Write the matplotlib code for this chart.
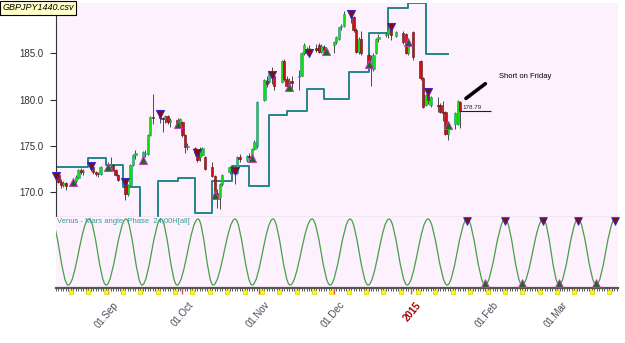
import numpy as np
import pandas as pd
import matplotlib
matplotlib.use("Agg")
import matplotlib.pyplot as plt
import matplotlib.dates as mdates
import matplotlib.transforms as mtrans
from matplotlib.path import Path
from matplotlib.patches import PathPatch

# daily GBPJPY bars
bar_dates = [
    "2014-08-11", "2014-08-12", "2014-08-13", "2014-08-14", "2014-08-15",
    "2014-08-18", "2014-08-19", "2014-08-20", "2014-08-21", "2014-08-22",
    "2014-08-25", "2014-08-26", "2014-08-27", "2014-08-28", "2014-08-29",
    "2014-09-01", "2014-09-02", "2014-09-03", "2014-09-04", "2014-09-05",
    "2014-09-08", "2014-09-09", "2014-09-10", "2014-09-11", "2014-09-12",
    "2014-09-15", "2014-09-16", "2014-09-17", "2014-09-18", "2014-09-19",
    "2014-09-22", "2014-09-23", "2014-09-24", "2014-09-25", "2014-09-26",
    "2014-09-29", "2014-09-30", "2014-10-01", "2014-10-02", "2014-10-03",
    "2014-10-06", "2014-10-07", "2014-10-08", "2014-10-09", "2014-10-10",
    "2014-10-13", "2014-10-14", "2014-10-15", "2014-10-16", "2014-10-17",
    "2014-10-20", "2014-10-21", "2014-10-22", "2014-10-23", "2014-10-24",
    "2014-10-27", "2014-10-28", "2014-10-29", "2014-10-30", "2014-10-31",
    "2014-11-03", "2014-11-04", "2014-11-05", "2014-11-06", "2014-11-07",
    "2014-11-10", "2014-11-11", "2014-11-12", "2014-11-13", "2014-11-14",
    "2014-11-17", "2014-11-18", "2014-11-19", "2014-11-20", "2014-11-21",
    "2014-11-24", "2014-11-25", "2014-11-26", "2014-11-27", "2014-11-28",
    "2014-12-01", "2014-12-02", "2014-12-03", "2014-12-04", "2014-12-05",
    "2014-12-08", "2014-12-09", "2014-12-10", "2014-12-11", "2014-12-12",
    "2014-12-15", "2014-12-16", "2014-12-17", "2014-12-18", "2014-12-19",
    "2014-12-22", "2014-12-23", "2014-12-24", "2014-12-26",
    "2014-12-29", "2014-12-30", "2014-12-31", "2015-01-02",
    "2015-01-05", "2015-01-06", "2015-01-07", "2015-01-08", "2015-01-09",
    "2015-01-12", "2015-01-13", "2015-01-14", "2015-01-15", "2015-01-16",
    "2015-01-19", "2015-01-20", "2015-01-21",
]
opens = [
    171.9, 171.8, 171.1, 170.8, 171.0,
    170.8, 171.2, 171.5, 172.4, 172.2,
    172.5, 172.7, 172.2, 172.0, 171.9,
    172.7, 172.9, 172.9, 172.4, 171.8,
    171.2, 169.8, 170.8, 172.9, 174.0,
    173.5, 174.1, 174.1, 176.2, 178.1,
    178.5, 178.0, 177.9, 178.2, 177.6,
    177.8, 177.3, 177.6, 176.2, 174.9,
    174.8, 174.5, 173.8, 174.0, 173.8,
    172.7, 171.7, 169.9, 169.5, 170.9,
    172.2, 172.7, 172.4, 172.1, 173.8,
    173.5, 173.9, 173.9, 174.7, 175.0,
    180.0, 182.0, 181.9, 182.9, 182.5,
    181.9, 184.2, 182.2, 181.5, 182.0,
    182.4, 182.6, 185.0, 185.5, 185.1,
    185.6, 185.9, 185.2, 185.7, 185.4,
    185.9, 186.2, 186.6, 187.8, 188.0,
    189.0, 188.9, 187.5, 185.1, 186.6,
    184.8, 183.5, 183.3, 185.0, 186.6,
    187.0, 187.1, 187.6, 186.9,
    187.2, 187.1, 185.0, 187.3,
    184.2, 182.3, 179.4, 180.5, 179.4,
    179.4, 179.4, 178.7, 178.7, 176.3,
    177.4, 177.4, 179.7,
]
highs = [
    172.1, 171.9, 171.4, 171.2, 171.1,
    171.4, 171.8, 172.5, 172.6, 172.5,
    173.0, 172.8, 172.3, 172.2, 172.8,
    173.2, 173.8, 173.0, 172.5, 171.9,
    171.4, 170.9, 173.0, 174.1, 174.6,
    174.4, 174.6, 176.3, 178.2, 180.6,
    178.6, 178.1, 178.3, 178.3, 178.0,
    178.0, 178.0, 177.7, 176.3, 175.3,
    174.9, 174.6, 174.9, 174.9, 173.9,
    173.2, 171.8, 170.3, 171.0, 171.9,
    172.8, 172.9, 172.7, 173.9, 174.1,
    174.0, 174.2, 174.8, 175.6, 179.8,
    182.2, 182.5, 183.1, 183.5, 182.7,
    184.3, 184.4, 182.6, 182.3, 182.5,
    183.2, 185.1, 186.1, 185.7, 185.9,
    186.0, 186.1, 186.0, 185.9, 185.7,
    186.3, 186.9, 187.9, 188.2, 189.6,
    189.5, 189.0, 187.7, 186.8, 187.4,
    185.0, 184.8, 185.0, 186.7, 187.1,
    187.3, 187.9, 188.0, 187.4,
    187.4, 187.2, 186.5, 187.4,
    184.3, 182.4, 180.6, 180.9, 180.4,
    180.3, 179.6, 179.9, 178.8, 177.6,
    178.7, 180.0, 179.9,
]
lows = [
    171.5, 171.0, 170.4, 170.5, 170.2,
    170.7, 171.0, 171.4, 171.9, 171.8,
    172.3, 172.0, 171.7, 171.6, 171.8,
    172.5, 172.6, 172.3, 171.7, 171.2,
    169.1, 169.6, 170.7, 172.8, 173.6,
    173.3, 173.8, 174.0, 176.1, 177.4,
    177.5, 176.5, 177.5, 177.4, 177.0,
    177.0, 177.0, 176.0, 174.2, 174.6,
    173.9, 173.3, 173.4, 173.9, 172.4,
    171.6, 169.6, 168.3, 168.2, 170.7,
    172.0, 171.9, 170.9, 172.0, 173.3,
    173.3, 173.6, 173.8, 174.5, 174.8,
    179.8, 181.4, 181.8, 181.7, 181.0,
    181.8, 182.0, 181.2, 181.1, 180.9,
    181.0, 182.5, 184.8, 184.8, 184.7,
    185.2, 185.0, 185.0, 185.2, 185.0,
    185.0, 186.0, 186.4, 187.5, 187.9,
    188.3, 187.3, 185.0, 184.9, 184.8,
    183.3, 181.5, 183.1, 184.9, 186.2,
    186.8, 186.7, 186.5, 186.8,
    186.0, 184.9, 184.8, 184.3,
    182.1, 179.1, 179.3, 179.5, 179.2,
    178.7, 178.6, 177.7, 176.2, 175.6,
    176.8, 177.2, 176.9,
]
closes = [
    171.7, 171.1, 170.8, 171.0, 170.6,
    171.2, 171.6, 172.4, 172.2, 172.3,
    172.8, 172.2, 172.0, 171.9, 172.7,
    172.9, 173.0, 172.4, 171.8, 171.3,
    169.8, 170.8, 172.9, 174.0, 174.2,
    174.3, 174.2, 176.2, 178.1, 178.0,
    178.0, 177.9, 178.2, 177.6, 177.8,
    177.4, 177.9, 176.2, 174.9, 175.0,
    174.2, 173.5, 174.6, 174.8, 172.5,
    171.7, 169.9, 169.6, 170.9, 171.8,
    172.7, 172.3, 172.1, 173.8, 173.6,
    173.9, 173.8, 174.7, 175.4, 179.7,
    182.1, 181.7, 183.0, 182.4, 181.5,
    184.2, 182.2, 181.5, 182.0, 181.8,
    182.6, 185.0, 185.9, 185.0, 185.6,
    185.4, 185.1, 185.8, 185.4, 185.3,
    186.2, 186.8, 187.8, 188.0, 189.3,
    188.9, 187.5, 185.1, 186.6, 185.0,
    183.5, 184.5, 184.8, 186.6, 186.8,
    187.1, 187.6, 187.0, 187.3,
    186.2, 185.0, 186.2, 184.6,
    182.3, 179.2, 180.5, 180.0, 180.3,
    179.3, 178.7, 178.5, 176.3, 177.0,
    178.6, 179.9, 178.79,
]

# turn signals drawn on the price bars
sell_dates = ["2014-08-11", "2014-08-25", "2014-09-08", "2014-09-22", "2014-10-07",
              "2014-10-22", "2014-11-06", "2014-11-21", "2014-12-08", "2014-12-24",
              "2015-01-08"]
sell_prices = [171.7, 172.8, 171.1, 178.4, 174.2, 172.3, 182.7, 185.0, 189.3, 187.8, 180.8]
buy_dates = ["2014-08-18", "2014-09-01", "2014-09-15", "2014-09-29", "2014-10-14",
             "2014-10-29", "2014-11-13", "2014-11-28", "2014-12-15", "2014-12-31",
             "2015-01-16"]
buy_prices = [171.1, 172.7, 173.5, 177.4, 169.7, 173.7, 181.4, 185.3, 183.9, 186.2, 177.2]

# weekly step line
step_dates = ["2014-08-11", "2014-08-24", "2014-08-31", "2014-09-07", "2014-09-14",
              "2014-09-21", "2014-09-29", "2014-10-06", "2014-10-13", "2014-10-21",
              "2014-10-28", "2014-11-05", "2014-11-12", "2014-11-20", "2014-11-27",
              "2014-12-07", "2014-12-15", "2014-12-23", "2014-12-31", "2015-01-07",
              "2015-01-16"]
step_levels = [172.7, 173.65, 172.9, 170.5, 167.0, 171.2, 171.5, 167.7, 171.2, 172.8,
               170.7, 178.3, 178.8, 181.2, 180.1, 183.0, 187.2, 189.9, 190.4, 184.9,
               184.9]

# Venus - Mars angle phase: tops and bottoms of the oscillator
peak_times = ["2014-08-09 00:00", "2014-08-24 08:00", "2014-09-08 06:00", "2014-09-22 09:00",
              "2014-10-07 07:00", "2014-10-22 05:00", "2014-11-06 12:00", "2014-11-22 06:00",
              "2014-12-07 14:00", "2014-12-23 07:00", "2015-01-08 00:00", "2015-01-23 19:00",
              "2015-02-08 02:00", "2015-02-23 10:00", "2015-03-09 12:00", "2015-03-24 10:00"]
trough_times = ["2014-08-15 22:00", "2014-08-31 05:00", "2014-09-14 17:00", "2014-09-28 19:00",
                "2014-10-13 08:00", "2014-10-29 02:00", "2014-11-13 09:00", "2014-11-29 12:00",
                "2014-12-14 20:00", "2014-12-30 14:00", "2015-01-15 17:00", "2015-01-31 00:00",
                "2015-02-14 22:00", "2015-03-01 20:00", "2015-03-16 19:00"]
peak_level = 1.0
trough_level = 0.0

month_ticks = ["2014-09-01", "2014-10-01", "2014-11-01", "2014-12-01",
               "2015-01-01", "2015-02-01", "2015-03-01"]
month_labels = ["01.Sep", "01.Oct", "01.Nov", "01.Dec", "2015", "01.Feb", "01.Mar"]


def dnum(lst):
    return mdates.date2num(pd.to_datetime(lst))


plt.rcParams['font.family'] = ['Liberation Sans', 'DejaVu Sans']

fig = plt.figure(figsize=(6.25, 3.43), dpi=100)
ax = fig.add_axes([56 / 625, 126 / 343, 562 / 625, 214 / 343])
ax2 = fig.add_axes([56 / 625, 55 / 343, 562 / 625, 71 / 343], sharex=ax)
bg = '#fdf1fd'
for a in (ax, ax2):
    a.set_facecolor(bg)

# candles
x = dnum(bar_dates)
o, h, l, c = map(np.array, (opens, highs, lows, closes))
up = c >= o
ax.vlines(x, l, h, color='#4a4a4a', lw=0.7, zorder=2)
ax.bar(x[up], np.maximum(c - o, 0.08)[up], bottom=o[up], width=0.95,
       color='#12dc12', edgecolor='#2a8c8c', lw=0.4, zorder=3)
ax.bar(x[~up], np.maximum(o - c, 0.08)[~up], bottom=c[~up], width=0.95,
       color='#d01010', edgecolor='#5a1010', lw=0.4, zorder=3)

# step line
ax.step(dnum(step_dates), step_levels, where='post', color='#23868a', lw=1.4, zorder=1)

# signals on price
ax.scatter(dnum(sell_dates), sell_prices, marker='v', s=34, c='#8a0a0a',
           edgecolors='#2a2ad0', linewidths=0.7, zorder=5, clip_on=False)
ax.scatter(dnum(buy_dates), buy_prices, marker='^', s=34, c='#1a6a1a',
           edgecolors='#c040c0', linewidths=0.7, zorder=5, clip_on=False)

# last close marker
last_x = x[-1]
ax.hlines(closes[-1], last_x, last_x + 12.5, color='#202020', lw=0.8, zorder=4)
ax.text(last_x + 1.0, closes[-1] + 0.12, f"{closes[-1]:.2f}", fontsize=4.5,
        color='#202020', va='bottom', ha='left', zorder=6)

# annotation
ax.annotate('', xy=(last_x + 1.4, 179.95), xytext=(last_x + 11.0, 181.9),
            arrowprops=dict(arrowstyle='-', lw=2.6, color='black'))
ax.text(last_x + 15.5, 182.45, 'Short on Friday', fontsize=5.5, va='center', ha='left')

ax.set_ylim(167.3, 190.45)
ax.set_yticks([170, 175, 180, 185])
ax.set_yticklabels(['170.0', '175.0', '180.0', '185.0'])
ax.tick_params(axis='y', length=4, width=0.8, pad=5, labelsize=7, colors='#303030')
ax.tick_params(axis='x', which='both', bottom=False, labelbottom=False)
for s in ('top', 'right'):
    ax.spines[s].set_visible(False)
ax.spines['left'].set_color('#333333')
ax.spines['bottom'].set_color('#bbbbbb')
ax.spines['bottom'].set_linewidth(1.0)

# oscillator
ext = sorted([(t, peak_level) for t in dnum(peak_times)] +
             [(t, trough_level) for t in dnum(trough_times)])
verts = [ext[0]]
codes = [Path.MOVETO]
for (ta, va), (tb, vb) in zip(ext[:-1], ext[1:]):
    k = 0.36 * (tb - ta)
    verts += [(ta + k, va), (tb - k, vb), (tb, vb)]
    codes += [Path.CURVE4] * 3
ax2.add_patch(PathPatch(Path(verts, codes), fill=False, ec='#46a046', lw=0.9))

pk = dnum(peak_times)
tr = dnum(trough_times)
ax2.scatter(pk[pk > last_x], [0.965] * int((pk > last_x).sum()), marker='v', s=30,
            c='#8a0a0a', edgecolors='#2a2ad0', linewidths=0.7, zorder=5, clip_on=False)
ax2.scatter(tr[tr > last_x], [0.035] * int((tr > last_x).sum()), marker='^', s=30,
            c='#1a6a1a', edgecolors='#c040c0', linewidths=0.7, zorder=5, clip_on=False)

ax2.text(0.002, 0.985, 'Venus - Mars angle  Phase  24,00H[all]', transform=ax2.transAxes,
         fontsize=5.5, color='#3a9a9a', va='top', ha='left')

ax2.set_ylim(-0.045, 1.03)
ax2.set_yticks([])
for s in ('top', 'right', 'left'):
    ax2.spines[s].set_visible(False)
ax2.spines['bottom'].set_color('#555555')
ax2.spines['bottom'].set_linewidth(1.6)

ax2.set_xlim(dnum(["2014-08-11"])[0], dnum(["2015-03-25 14:00"])[0])
ax2.xaxis.set_minor_locator(mdates.DayLocator())
ax2.set_xticks(dnum(month_ticks))
ax2.set_xticklabels(month_labels)
ax2.tick_params(axis='x', which='major', length=4, width=1.0, color='#e05050', pad=4.5,
                labelsize=7, labelcolor='#4a4a5a')
ax2.tick_params(axis='x', which='minor', length=2, width=0.6, color='#404040')
shift = mtrans.ScaledTranslation(0.05, 0, fig.dpi_scale_trans)
for lab in ax2.get_xticklabels():
    lab.set_rotation(50)
    lab.set_ha('right')
    lab.set_va('top')
    lab.set_rotation_mode('anchor')
    lab.set_transform(lab.get_transform() + shift)
    if lab.get_text() == '2015':
        lab.set_color('#a00000')
        lab.set_fontweight('bold')

# weekend markers on the time scale
weekends = pd.date_range("2014-08-17", "2015-03-22", freq="7D")
blend = mtrans.blended_transform_factory(ax2.transData, ax2.transAxes)
ax2.plot(mdates.date2num(weekends), [-0.05] * len(weekends), transform=blend, ls='none',
         marker='s', ms=2.6, mfc='#ffff00', mec='#d0c000', mew=0.4, clip_on=False)

fig.text(0.004, 0.99, 'GBPJPY1440.csv', ha='left', va='top', style='italic', fontsize=6.5,
         bbox=dict(boxstyle='square,pad=0.25', fc='#ffffc8', ec='black', lw=0.8))

fig.savefig('out.png', dpi=100)
